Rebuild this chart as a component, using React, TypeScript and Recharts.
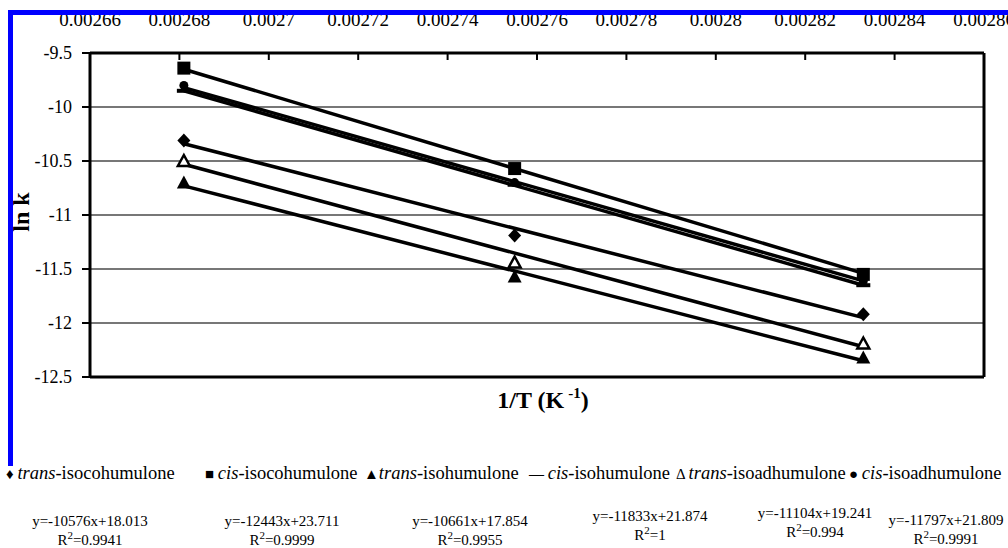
import {
  ScatterChart,
  Scatter,
  XAxis,
  YAxis,
  CartesianGrid,
  ReferenceLine,
} from "recharts";

// 1/T for the three temperatures (K^-1)
const INV_T = [0.002681, 0.002755, 0.002833];
const TREND_X = [0.002681, 0.002833];

const X_TICKS = [
  0.00266, 0.00268, 0.0027, 0.00272, 0.00274, 0.00276, 0.00278, 0.0028,
  0.00282, 0.00284, 0.00286,
];
const Y_TICKS = [-12.5, -12, -11.5, -11, -10.5, -10, -9.5];

// measured ln k
const transIsocohumulone = [-10.31, -11.19, -11.92];
const cisIsocohumulone = [-9.64, -10.57, -11.55];
const transIsohumulone = [-10.7, -11.57, -12.32];
const cisIsohumulone = [-9.85, -10.72, -11.65];
const transIsoadhumulone = [-10.5, -11.44, -12.19];
const cisIsoadhumulone = [-9.8, -10.7, -11.61];

// trendline ends (read at first and last 1/T)
const transIsocohumuloneTrend = [-10.34, -11.95];
const cisIsocohumuloneTrend = [-9.65, -11.54];
const transIsohumuloneTrend = [-10.73, -12.35];
const cisIsohumuloneTrend = [-9.85, -11.65];
const transIsoadhumuloneTrend = [-10.53, -12.22];
const cisIsoadhumuloneTrend = [-9.82, -11.61];

const NAMES = [
  ["trans", "-isocohumulone"],
  ["cis", "-isocohumulone"],
  ["trans", "-isohumulone"],
  ["cis", "-isohumulone"],
  ["trans", "-isoadhumulone"],
  ["cis", "-isoadhumulone"],
];
const LEGEND_SYMBOLS = ["\u2666 ", "\u25A0 ", "\u25B2", "\u2014 ", "\u0394 ", "\u25CF "];
const EQUATIONS = [
  "y=-10576x+18.013",
  "y=-12443x+23.711",
  "y=-10661x+17.854",
  "y=-11833x+21.874",
  "y=-11104x+19.241",
  "y=-11797x+21.809",
];
const R2 = ["0.9941", "0.9999", "0.9955", "1", "0.994", "0.9991"];

const MARKERS = ["diamond", "square", "triangle", "dash", "openTriangle", "circle"];
const VALUES = [
  transIsocohumulone,
  cisIsocohumulone,
  transIsohumulone,
  cisIsohumulone,
  transIsoadhumulone,
  cisIsoadhumulone,
];
const TRENDS = [
  transIsocohumuloneTrend,
  cisIsocohumuloneTrend,
  transIsohumuloneTrend,
  cisIsohumuloneTrend,
  transIsoadhumuloneTrend,
  cisIsoadhumuloneTrend,
];

// layout of the text block under the chart
const LEGEND_X = [6, 205, 364, 529, 676, 849];
const EQ_X = [90, 282, 470, 650, 815, 946];
const EQ_Y = [526, 526, 526, 521, 518, 525];

const FONT = "'Liberation Serif', 'Times New Roman', serif";

const toPoints = (xs: number[], ys: number[]) =>
  xs.map((x, i) => ({ x, y: ys[i] }));

function Marker(props: any) {
  const { cx, cy, kind } = props;
  if (cx == null || cy == null) return <g />;
  switch (kind) {
    case "diamond":
      return (
        <polygon
          points={`${cx},${cy - 7} ${cx + 6.5},${cy} ${cx},${cy + 7} ${cx - 6.5},${cy}`}
          fill="#000"
        />
      );
    case "square":
      return <rect x={cx - 6.5} y={cy - 6.5} width={13} height={13} fill="#000" />;
    case "triangle":
      return (
        <polygon
          points={`${cx},${cy - 7} ${cx + 7},${cy + 6} ${cx - 7},${cy + 6}`}
          fill="#000"
        />
      );
    case "openTriangle":
      return (
        <polygon
          points={`${cx},${cy - 6} ${cx + 6},${cy + 5} ${cx - 6},${cy + 5}`}
          fill="#fff"
          stroke="#000"
          strokeWidth={2.5}
        />
      );
    case "dash":
      return <rect x={cx - 7} y={cy - 2} width={14} height={4} fill="#000" />;
    default:
      return <circle cx={cx} cy={cy} r={4.5} fill="#000" />;
  }
}

function TopTick(props: any) {
  const { x, y, payload } = props;
  return (
    <g>
      <line x1={x} x2={x} y1={y} y2={y + 7} stroke="#000" strokeWidth={2} />
      <text
        x={x}
        y={y - 27}
        textAnchor="middle"
        fontSize={19}
        fontFamily={FONT}
        fill="#000"
      >
        {payload.value}
      </text>
    </g>
  );
}

export default function App() {
  return (
    <div
      style={{
        position: "absolute",
        left: 0,
        top: 0,
        width: 1008,
        height: 548,
        background: "#fff",
        overflow: "hidden",
        fontFamily: FONT,
      }}
    >
      <div style={{ position: "absolute", left: 0, top: 0 }}>
        <ScatterChart
          width={1008}
          height={420}
          margin={{ top: 0, right: 24, bottom: 43, left: 0 }}
        >
          <CartesianGrid
            vertical={false}
            stroke="#4a4a4a"
            strokeWidth={1.5}
            horizontalValues={Y_TICKS}
          />
          <XAxis
            dataKey="x"
            type="number"
            orientation="top"
            height={53}
            domain={[0.00266, 0.00286]}
            ticks={X_TICKS}
            allowDataOverflow
            tickSize={0}
            tickMargin={0}
            tick={<TopTick />}
            tickLine={false}
            axisLine={{ stroke: "#000", strokeWidth: 3 }}
            interval={0}
          />
          <YAxis
            dataKey="y"
            type="number"
            width={90}
            domain={[-12.5, -9.5]}
            ticks={Y_TICKS}
            allowDataOverflow
            interval={0}
            tickSize={8}
            tickMargin={10}
            tick={{ fill: "#000", fontSize: 18, fontFamily: FONT }}
            tickLine={{ stroke: "#000", strokeWidth: 2 }}
            axisLine={{ stroke: "#000", strokeWidth: 3 }}
          />
          <ReferenceLine y={-12.5} stroke="#000" strokeWidth={3} />
          <ReferenceLine x={0.00286} stroke="#000" strokeWidth={3} />

          {TRENDS.map((t, i) => (
            <Scatter
              key={"t" + i}
              data={toPoints(TREND_X, t)}
              line={{ stroke: "#000", strokeWidth: 3.5 }}
              shape={() => <g />}
              legendType="none"
              isAnimationActive={false}
            />
          ))}
          {VALUES.map((v, i) => (
            <Scatter
              key={"v" + i}
              data={toPoints(INV_T, v)}
              shape={(p: any) => <Marker {...p} kind={MARKERS[i]} />}
              legendType="none"
              isAnimationActive={false}
            />
          ))}
        </ScatterChart>
      </div>

      <svg
        width={1008}
        height={548}
        style={{ position: "absolute", left: 0, top: 0, pointerEvents: "none" }}
        fontFamily={FONT}
      >
        <text
          transform="translate(21,212) rotate(-90)"
          textAnchor="middle"
          dominantBaseline="central"
          fontSize={24}
          fontWeight="bold"
        >
          ln k
        </text>
        <text x={543} y={408} textAnchor="middle" fontSize={24} fontWeight="bold">
          1/T (K
          <tspan fontSize={15} dy={-10} dx={4}>
            -1
          </tspan>
          <tspan dy={10}>)</tspan>
        </text>

        {NAMES.map((n, i) => (
          <text key={"l" + i} x={LEGEND_X[i]} y={479} fontSize={18.5}>
            <tspan fontSize={15} fontWeight={i === 3 ? "bold" : "normal"}>
              {LEGEND_SYMBOLS[i]}
            </tspan>
            <tspan fontStyle="italic">{n[0]}</tspan>
            <tspan>{n[1]}</tspan>
          </text>
        ))}

        {EQUATIONS.map((e, i) => (
          <g key={"e" + i}>
            <text x={EQ_X[i]} y={EQ_Y[i]} textAnchor="middle" fontSize={15}>
              {e}
            </text>
            <text x={EQ_X[i]} y={EQ_Y[i] + 19} textAnchor="middle" fontSize={15}>
              R
              <tspan fontSize={11} dy={-6}>
                2
              </tspan>
              <tspan dy={6}>{"=" + R2[i]}</tspan>
            </text>
          </g>
        ))}

        <rect x={8} y={10} width={1000} height={5} fill="#0000ff" />
        <rect x={8} y={10} width={5} height={456} fill="#0000ff" />
      </svg>
    </div>
  );
}
